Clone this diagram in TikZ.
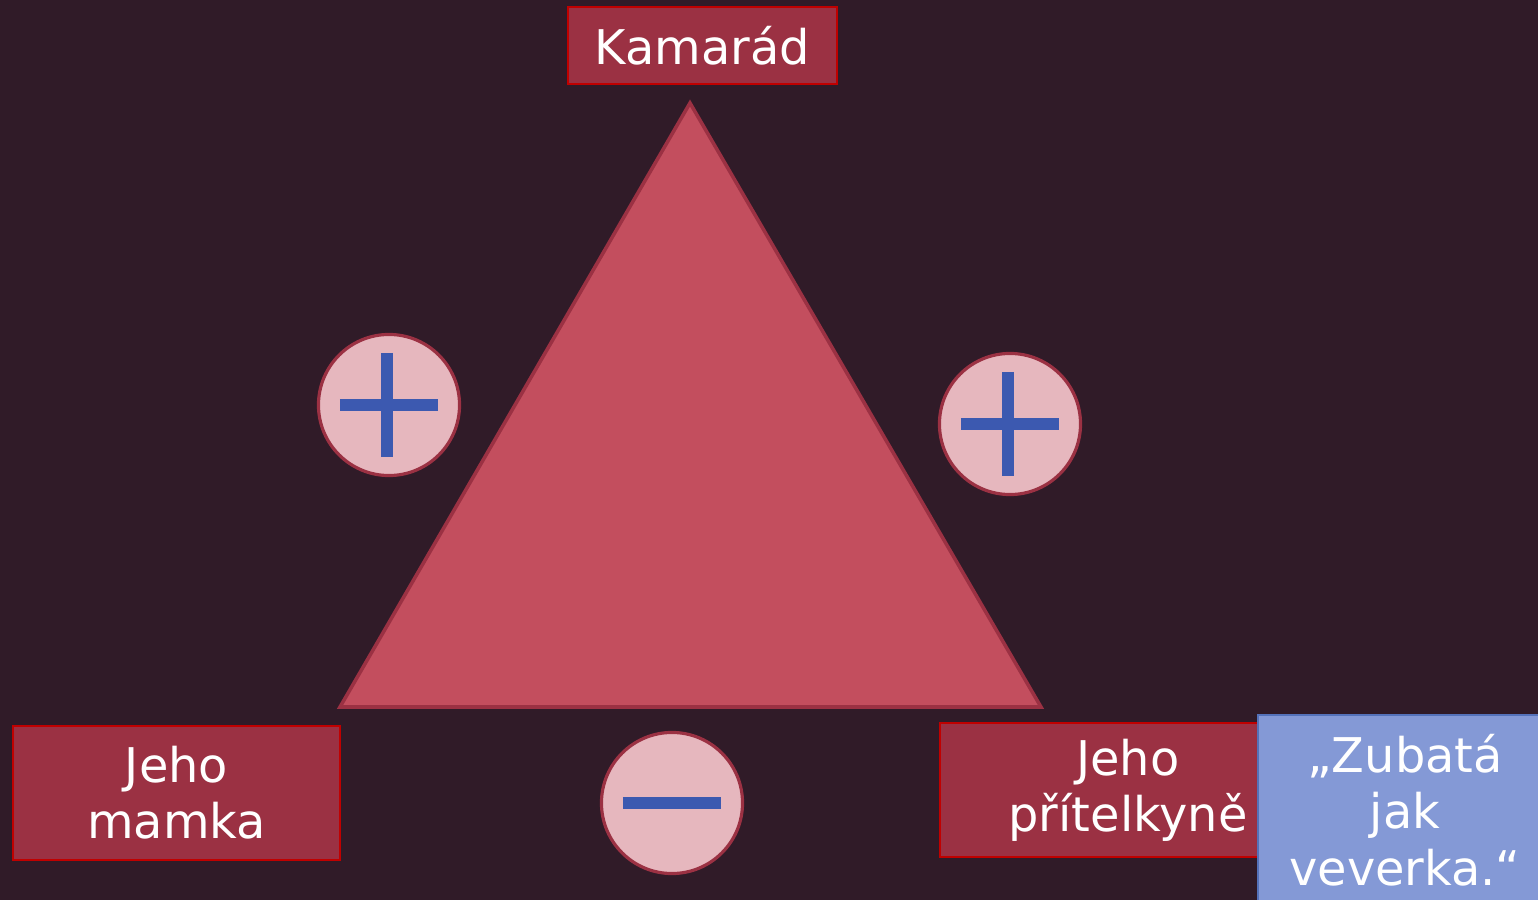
\documentclass[tikz,border=0pt]{standalone}
\usepackage{fontspec}
\setmainfont{DejaVu Sans}
\definecolor{bgD}{RGB}{48,27,40}
\definecolor{boxR}{RGB}{155,49,67}
\definecolor{edgeR}{RGB}{192,0,0}
\definecolor{triR}{RGB}{195,78,94}
\definecolor{pinkC}{RGB}{230,183,190}
\definecolor{barB}{RGB}{60,89,176}
\definecolor{boxB}{RGB}{132,153,214}
\definecolor{edgeB}{RGB}{84,114,186}

\begin{document}
\begin{tikzpicture}[x=0.01cm,y=-0.01cm,
  lbl/.style={fill=boxR,draw=edgeR,line width=0.6pt,text=white,align=center,
    font=\fontsize{13.6}{16}\selectfont,inner sep=0pt},
  sgn/.style={circle,fill=pinkC,draw=boxR,line width=0.9pt,minimum size=1.41cm,inner sep=0pt},
  bar/.style={barB,line width=0.11cm}]
% page 1538 x 900 px, 1 px = 0.01 cm
\fill[bgD] (0,0) rectangle (1538,900);
\clip (0,0) rectangle (1538,900);
\coordinate (apex) at (690,103);
\coordinate (baseR) at (1041,707);
\coordinate (baseL) at (340,707);
\filldraw[fill=triR,draw=boxR,line width=1pt] (apex) -- (baseR) -- (baseL) -- cycle;
\node[lbl,minimum width=2.69cm,minimum height=0.77cm] (kam) at (702.5,45.5) {Kamarád};
\node[lbl,minimum width=3.27cm,minimum height=1.34cm] (mam) at (176.5,793) {Jeho\\mamka};
\node[lbl,minimum width=3.76cm,minimum height=1.34cm,text depth=0.1cm] (pri) at (1128,790) {Jeho\\přítelkyně};
\node[lbl,fill=boxB,draw=edgeB,minimum width=2.94cm,minimum height=1.9cm] (zub) at (1405,810) {„Zubatá\\jak\\veverka.“};
% signs on the sides
\node[sgn] (plL) at (389,405) {};
\node[sgn] (plR) at (1010,424) {};
\node[sgn] (mnB) at (672,803) {};
\foreach \s in {plL,plR} {
  \draw[bar] ([xshift=-0.49cm]\s.center) -- ([xshift=0.49cm]\s.center);
  \draw[bar] ([xshift=-0.02cm,yshift=0.52cm]\s.center) -- ([xshift=-0.02cm,yshift=-0.52cm]\s.center);
}
\draw[bar] ([xshift=-0.49cm]mnB.center) -- ([xshift=0.49cm]mnB.center);
\end{tikzpicture}
\end{document}
